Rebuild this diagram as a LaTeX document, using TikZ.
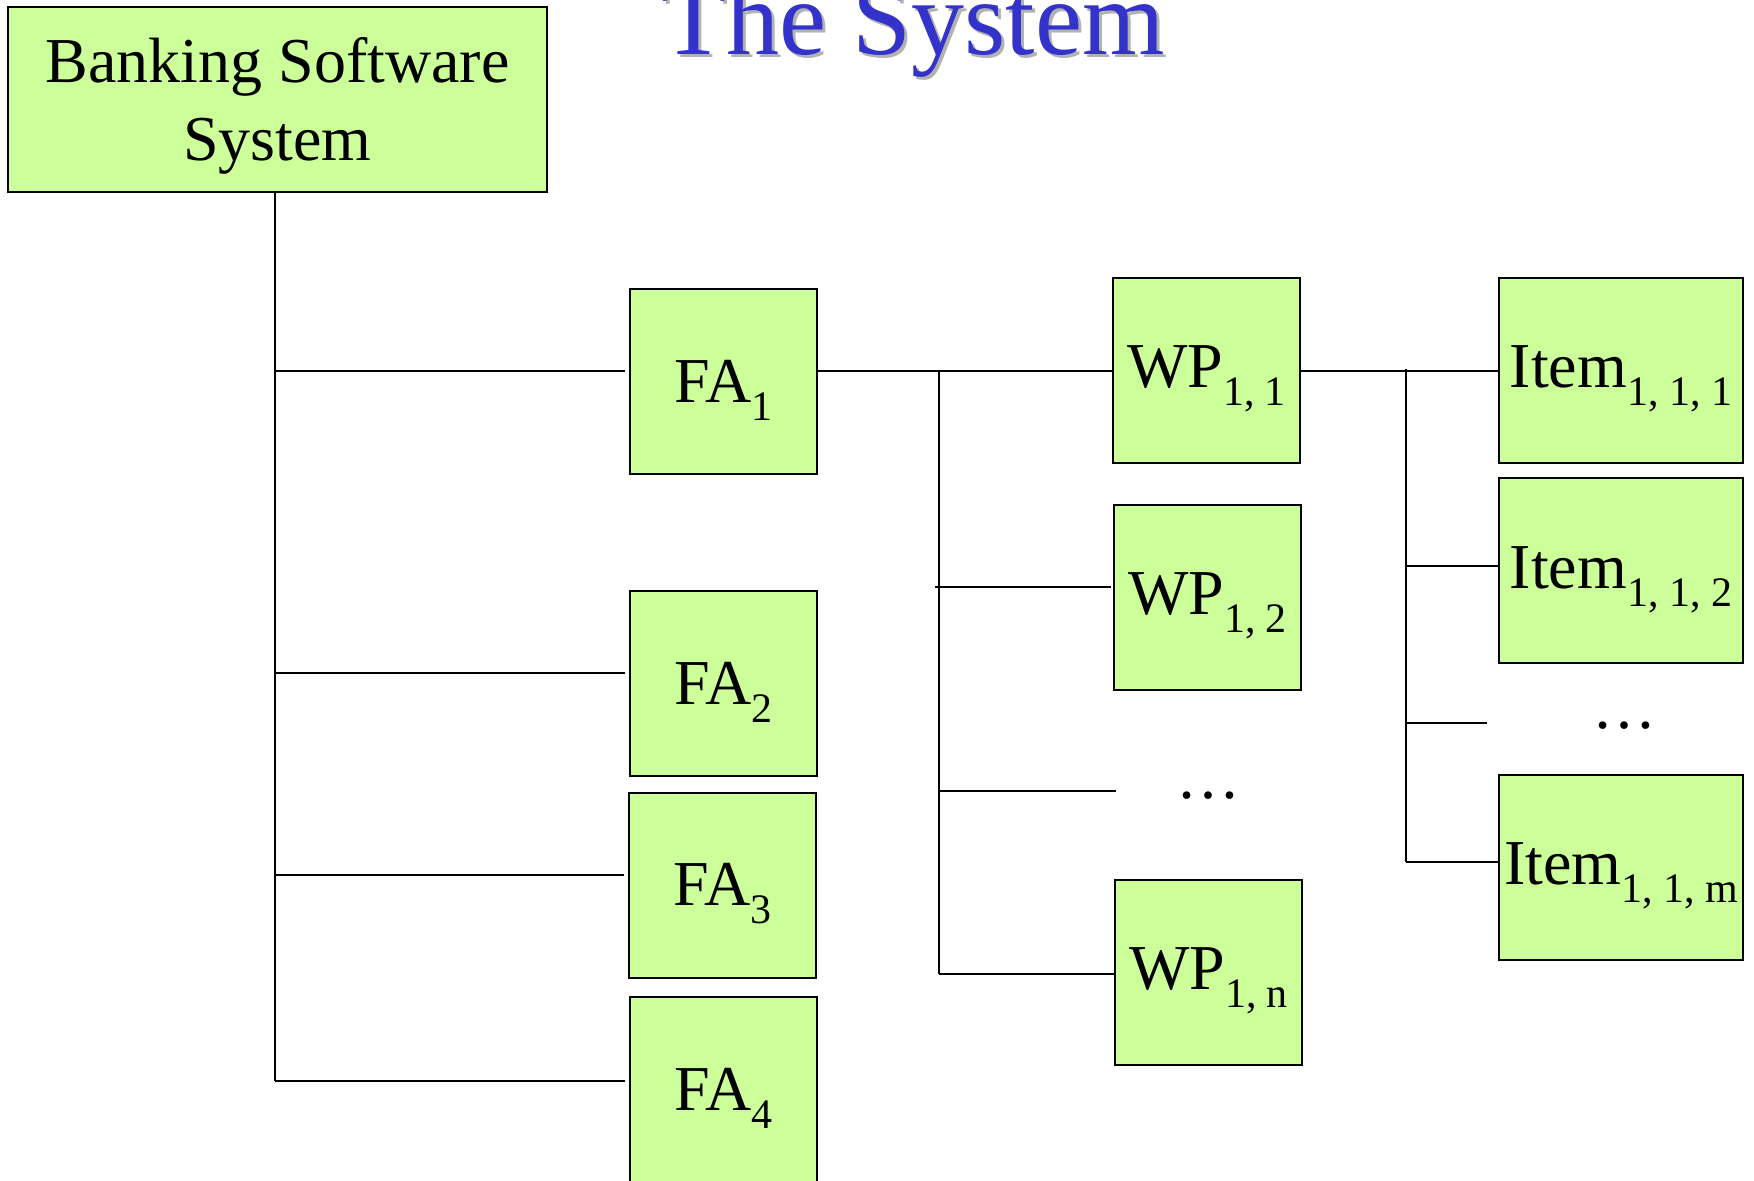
\documentclass[tikz,border=0pt]{standalone}
\usepackage{fontspec}
\setmainfont{Liberation Serif}
\definecolor{boxgreen}{HTML}{CCFF99}
\definecolor{titleblue}{HTML}{3333CC}
\definecolor{shadowgray}{HTML}{B2B2B2}
\newcommand{\subs}[1]{\raisebox{-9pt}{\fontsize{21}{21}\selectfont #1}}
\tikzset{
  box/.style={draw=black, line width=1pt, fill=boxgreen, inner sep=0pt,
    minimum width=93.5pt, minimum height=92.5pt},
  itembox/.style={box, minimum width=122pt},
  boxtext/.style={font=\fontsize{32}{39}\selectfont, align=center, inner sep=0pt, yshift=-4.5pt},
  conn/.style={line width=0.75pt, draw=black},
  dots/.style={font=\fontsize{32}{39}\selectfont, inner sep=0pt}
}
\begin{document}
\begin{tikzpicture}[x=0.5pt,y=-0.5pt]
\useasboundingbox (0,0) rectangle (1754,1180);
% title
\node[anchor=base, font=\fontsize{53}{60}\selectfont, text=shadowgray] at (916,57) {The System};
\node[anchor=base, font=\fontsize{53}{60}\selectfont, text=titleblue] (title) at (913,54) {The System};
% boxes
\node[box, minimum width=269.5pt, label={[boxtext, yshift=1.5pt]center:Banking Software\\System}] (bss) at (277.5,99.5) {};
\node[box, label={[boxtext]center:FA\subs{1}}] (fa1) at (723.5,381.5) {};
\node[box, label={[boxtext]center:FA\subs{2}}] (fa2) at (723.5,683.5) {};
\node[box, label={[boxtext]center:FA\subs{3}}] (fa3) at (722.5,885) {};
\node[box, label={[boxtext]center:FA\subs{4}}] (fa4) at (723.5,1089) {};
\node[box, label={[boxtext]center:WP\subs{1, 1}}] (wp11) at (1206.5,370) {};
\node[box, label={[boxtext]center:WP\subs{1, 2}}] (wp12) at (1207.5,597) {};
\node[dots] (wpdots) at (1208,796) {\dots};
\node[box, label={[boxtext]center:WP\subs{1, n}}] (wp1n) at (1208.5,972) {};
\node[itembox, label={[boxtext]center:Item\subs{1, 1, 1}}] (it111) at (1621,370) {};
\node[itembox, label={[boxtext]center:Item\subs{1, 1, 2}}] (it112) at (1621,570.5) {};
\node[dots] (itdots) at (1624,726) {\dots};
\node[itembox, label={[boxtext]center:Item\subs{1, 1, m}}] (it11m) at (1621,867) {};
% trunk from system
\coordinate (t0) at (275,192);
\coordinate (t1) at (275,371);
\coordinate (t2) at (275,673);
\coordinate (t3) at (275,875);
\coordinate (t4) at (275,1081);
\draw[conn] (bss.south -| t0) -- (t4);
\draw[conn] (t1) -- ([xshift=-2pt]fa1.west |- t1);
\draw[conn] (t2) -- ([xshift=-2pt]fa2.west |- t2);
\draw[conn] (t3) -- ([xshift=-2pt]fa3.west |- t3);
\draw[conn] (t4) -- ([xshift=-2pt]fa4.west |- t4);
% FA1 to WPs
\coordinate (w0) at (939,371);
\coordinate (w2) at (935,587);
\coordinate (w3) at (939,791);
\coordinate (w3e) at (1116,791);
\coordinate (w4) at (939,974);
\draw[conn] (fa1.east |- w0) -- (wp11.west |- w0);
\draw[conn] (w0) -- (w4);
\draw[conn] (w2) -- ([xshift=-1pt]wp12.west |- w2);
\draw[conn] (w3) -- (w3e);
\draw[conn] (w4) -- (wp1n.west |- w4);
% WP11 to items
\coordinate (i0) at (1406,369);
\coordinate (i1) at (1406,371);
\coordinate (i2) at (1406,566);
\coordinate (i3) at (1406,723);
\coordinate (i3e) at (1487,723);
\coordinate (i4) at (1406,862);
\draw[conn] (wp11.east |- i1) -- (it111.west |- i1);
\draw[conn] (i0) -- (i4);
\draw[conn] (i2) -- (it112.west |- i2);
\draw[conn] (i3) -- (i3e);
\draw[conn] (i4) -- (it11m.west |- i4);
\end{tikzpicture}
\end{document}
